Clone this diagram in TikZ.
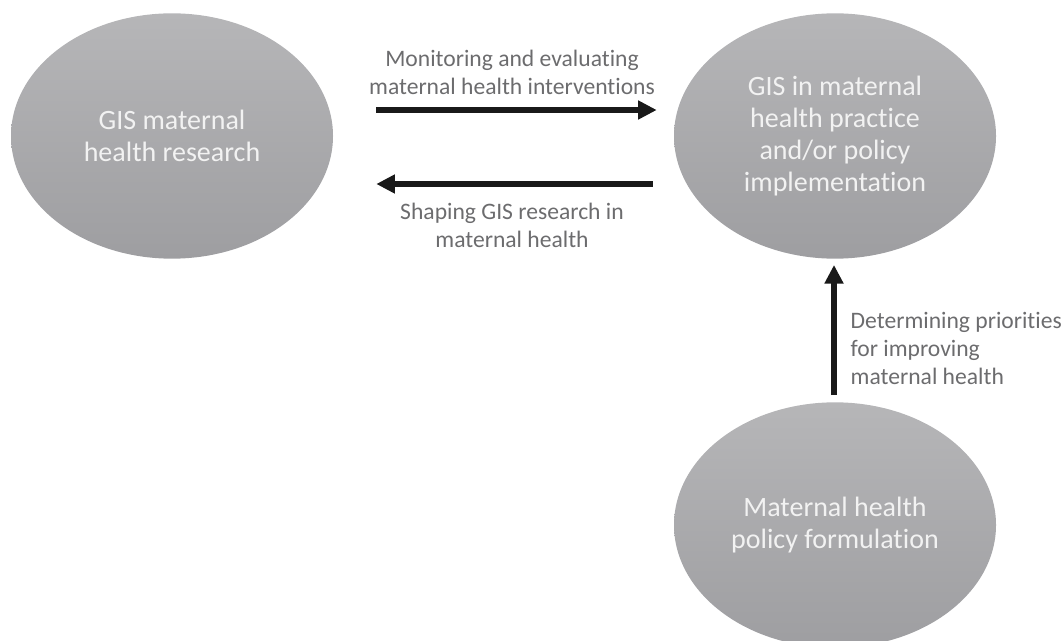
\documentclass[tikz,border=0pt]{standalone}
\usepackage{fontspec}
\setmainfont{Carlito}[Ligatures={NoCommon,NoContextual}, RawFeature={-liga;-clig;-calt;-dlig}]
\usepackage{xcolor}
\usepackage{tikz}
\usetikzlibrary{arrows.meta,calc}
\usetikzlibrary{positioning,shapes}

\definecolor{blobtop}{RGB}{182,182,184}
\definecolor{blobbot}{RGB}{158,158,161}
\definecolor{blobtext}{RGB}{242,242,242}
\definecolor{labgray}{RGB}{108,108,110}
\definecolor{arrowblk}{RGB}{25,25,25}

\begin{document}
\begin{tikzpicture}[
    x=0.75pt, y=0.75pt,
    blob/.style={ellipse, draw=none, top color=blobtop, bottom color=blobbot,
        minimum width=241.5pt, minimum height=184pt, text=blobtext,
        align=center, font=\fontsize{21}{24}\selectfont},
    flow/.style={-{Triangle[length=14pt, width=13.5pt]}, line width=5pt, arrowblk},
    lab/.style={text=labgray, font=\fontsize{17.7}{21}\selectfont}
]

% page frame
\path[use as bounding box] (0,0) rectangle (1062,640);

% the three bubbles
\node[blob] (res)  at (172,504) {GIS maternal\\health research};
\node[blob] (prac) at (835,504) {GIS in maternal\\health practice\\and/or policy\\implementation};
\node[blob] (pol)  at (835,115) {Maternal health\\policy formulation};

% arrows between them
\draw[flow, shorten <=32.25pt, shorten >=12.75pt]
      ($(res.east)+(0,26)$) -- ($(prac.west)+(0,26)$);
\draw[flow, shorten <=15.75pt, shorten >=32.25pt]
      ($(prac.west)+(0,-48)$) -- ($(res.east)+(0,-48)$);
\draw[flow, shorten <=5.25pt, shorten >=4.5pt]
      ($(pol.north)+(-1,0)$) -- ($(prac.south)+(-1,0)$);

% arrow labels
\node[lab, align=center] (monit) at (512,568) {Monitoring and evaluating\\maternal health interventions};
\node[lab, align=center] (shape) at (512,415) {Shaping GIS research in\\maternal health};
\node[lab, align=left, anchor=west] (prio) at (846,292) {Determining priorities\\for improving\\maternal health};

\end{tikzpicture}
\end{document}
